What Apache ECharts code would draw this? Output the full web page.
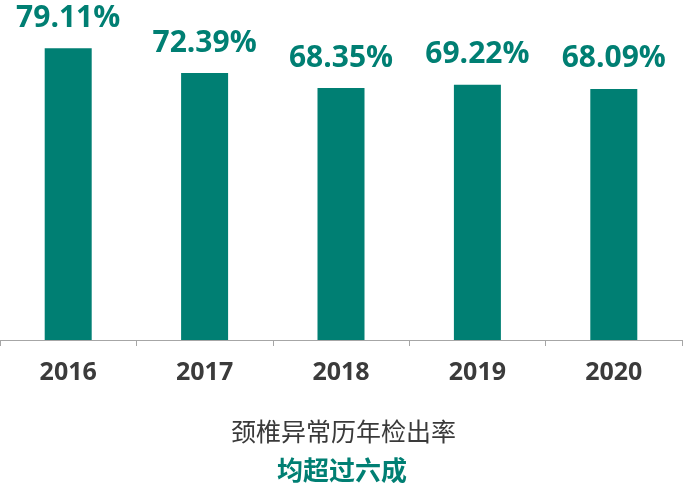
<!DOCTYPE html>
<html>
<head>
<meta charset="utf-8">
<script src="https://cdn.jsdelivr.net/npm/echarts@6/dist/echarts.min.js"></script>
<style>
html,body{margin:0;padding:0;background:#fff;}
#c{width:692px;height:493px;}
</style>
</head>
<body>
<div id="c"></div>
<script>
const categories = ['2016', '2017', '2018', '2019', '2020'];
const rates = [79.11, 72.39, 68.35, 69.22, 68.09];
const subtitleText = '颈椎异常历年检出率';
const highlightText = '均超过六成';

const teal = '#007f73';
const chart = echarts.init(document.getElementById('c'));
chart.setOption({
  animation: false,
  backgroundColor: '#fff',
  title: [
    {
      text: subtitleText,
      left: 226,
      top: 414,
      textStyle: { fontFamily: 'Noto Sans CJK SC', fontSize: 25, fontWeight: 'normal', color: '#3a3a3a' }
    },
    {
      text: highlightText,
      left: 272,
      top: 452,
      textStyle: { fontFamily: 'Noto Sans CJK SC', fontSize: 26, fontWeight: 'bold', color: teal }
    }
  ],
  grid: { left: 0, right: 10, top: 45, bottom: 153, containLabel: false },
  xAxis: {
    type: 'category',
    data: categories,
    axisLine: { lineStyle: { color: '#a6a6a6', width: 1 } },
    axisTick: { show: true, length: 6, lineStyle: { color: '#a6a6a6' } },
    axisLabel: { margin: 20, fontFamily: 'Open Sans', fontWeight: 'bold', fontSize: 25, color: '#3b3b3b' }
  },
  yAxis: {
    type: 'value',
    min: 0,
    max: 80,
    show: false,
    splitLine: { show: false }
  },
  series: [{
    type: 'bar',
    data: rates,
    barWidth: 47,
    itemStyle: { color: teal },
    label: {
      show: true,
      position: 'top',
      distance: 15,
      formatter: p => p.value.toFixed(2) + '%',
      fontFamily: 'Open Sans',
      fontWeight: 'bold',
      fontSize: 30,
      color: teal
    }
  }]
});
</script>
</body>
</html>
